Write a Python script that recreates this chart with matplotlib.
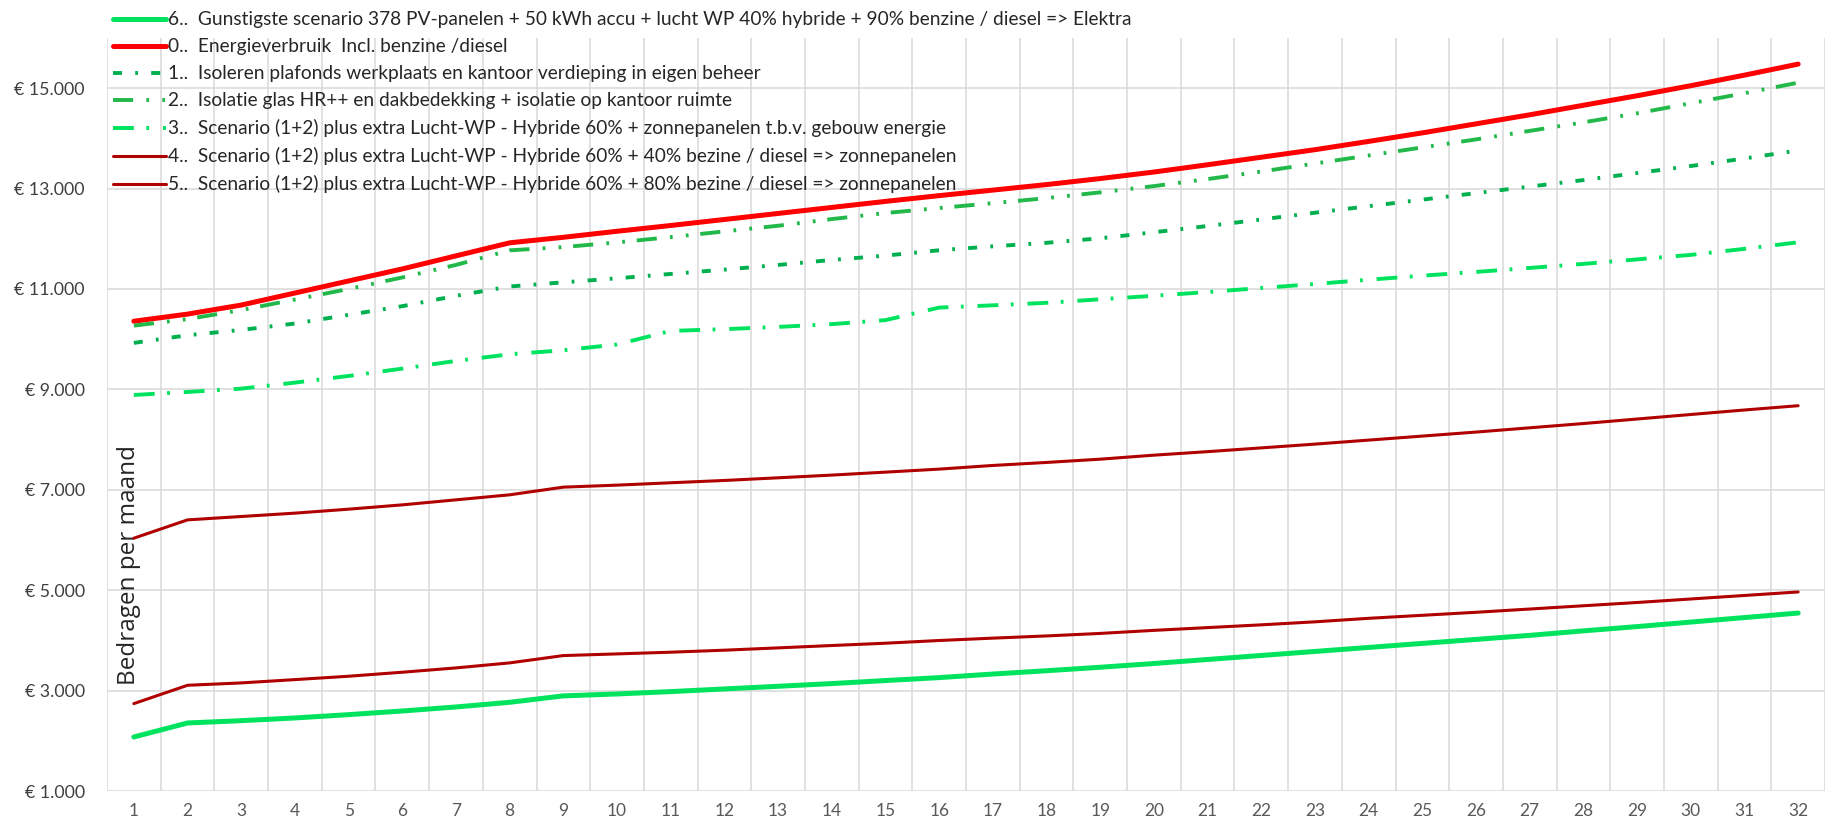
import matplotlib
matplotlib.use("Agg")
import matplotlib.pyplot as plt
from matplotlib.ticker import FixedLocator

plt.rcParams['lines.scale_dashes'] = False

# ---------------- data ----------------
years = list(range(1, 33))

labels = [
    "6..  Gunstigste scenario 378 PV-panelen + 50 kWh accu + lucht WP 40% hybride + 90% benzine / diesel => Elektra",
    "0..  Energieverbruik  Incl. benzine /diesel",
    "1..  Isoleren plafonds werkplaats en kantoor verdieping in eigen beheer",
    "2..  Isolatie glas HR++ en dakbedekking + isolatie op kantoor ruimte",
    "3..  Scenario (1+2) plus extra Lucht-WP - Hybride 60% + zonnepanelen t.b.v. gebouw energie",
    "4..  Scenario (1+2) plus extra Lucht-WP - Hybride 60% + 40% bezine / diesel => zonnepanelen",
    "5..  Scenario (1+2) plus extra Lucht-WP - Hybride 60% + 80% bezine / diesel => zonnepanelen",
]

s6 = [2076, 2355, 2401, 2455, 2521, 2594, 2674, 2767, 2895, 2933, 2980, 3033, 3086, 3140, 3200, 3259,
      3330, 3396, 3465, 3540, 3620, 3700, 3780, 3860, 3940, 4020, 4100, 4190, 4275, 4365, 4455, 4545]
s0 = [10358, 10500, 10680, 10920, 11160, 11400, 11660, 11920, 12030, 12150, 12265, 12385, 12505, 12625, 12745, 12860,
      12970, 13080, 13200, 13330, 13475, 13625, 13775, 13940, 14110, 14290, 14470, 14660, 14850, 15050, 15260, 15480]
s1 = [9926, 10079, 10185, 10312, 10485, 10658, 10864, 11050, 11133, 11213, 11300, 11386, 11479, 11579, 11665, 11772,
      11850, 11920, 12010, 12130, 12255, 12385, 12520, 12650, 12780, 12910, 13040, 13170, 13310, 13450, 13600, 13760]
s2 = [10270, 10400, 10580, 10790, 11000, 11230, 11480, 11770, 11835, 11928, 12034, 12147, 12260, 12393, 12513, 12613,
      12710, 12810, 12925, 13050, 13190, 13340, 13500, 13660, 13820, 13980, 14150, 14320, 14500, 14700, 14900, 15110]
s3 = [8889, 8949, 9015, 9135, 9268, 9414, 9567, 9700, 9780, 9895, 10165, 10200, 10245, 10300, 10380, 10630,
      10675, 10725, 10795, 10865, 10940, 11020, 11100, 11185, 11265, 11340, 11420, 11500, 11590, 11680, 11800, 11930]
s4 = [6036, 6401, 6468, 6535, 6614, 6700, 6800, 6900, 7053, 7093, 7140, 7186, 7239, 7293, 7352, 7412,
      7485, 7545, 7610, 7690, 7760, 7835, 7910, 7990, 8070, 8150, 8235, 8320, 8410, 8500, 8590, 8675]
s5 = [2741, 3106, 3153, 3219, 3286, 3366, 3452, 3552, 3698, 3731, 3765, 3805, 3851, 3898, 3944, 3998,
      4045, 4089, 4139, 4200, 4255, 4310, 4370, 4440, 4500, 4560, 4625, 4690, 4755, 4825, 4895, 4965]

yticks = [1000, 3000, 5000, 7000, 9000, 11000, 13000, 15000]
ytick_labels = ["€ 1.000", "€ 3.000", "€ 5.000", "€ 7.000", "€ 9.000", "€ 11.000", "€ 13.000", "€ 15.000"]
ylabel = "Bedragen per maand"

# ---------------- figure ----------------
W, H, DPI = 1832, 827, 100
fig = plt.figure(figsize=(W / DPI, H / DPI), dpi=DPI)
ax_l, ax_r, ax_t, ax_b = 107, 1825, 38, 791
ax = fig.add_axes([ax_l / W, 1 - ax_b / H, (ax_r - ax_l) / W, (ax_b - ax_t) / H])

grid_c = "#D9D9D9"
tick_font = "Lato"

styles = [
    dict(color="#00E35F", lw=3.6, ls="-"),
    dict(color="#FF0000", lw=3.6, ls="-"),
    dict(color="#00B04F", lw=2.8, ls=(0, (6.5, 9.5, 2, 9.5))),
    dict(color="#22B84A", lw=2.8, ls=(0, (14.5, 9.5, 2, 9.5, 2, 8.5))),
    dict(color="#00E35F", lw=2.8, ls=(0, (15, 9, 2, 10))),
    dict(color="#B00000", lw=2.2, ls="-"),
    dict(color="#B00000", lw=2.2, ls="-"),
]
series = [s6, s0, s1, s2, s3, s4, s5]

for data, lab, st in zip(series, labels, styles):
    ax.plot(years, data, label=lab, color=st["color"], lw=st["lw"], linestyle=st["ls"],
            solid_capstyle="round", dash_capstyle="butt", zorder=3)

ax.set_xlim(0.5, 32.5)
ax.set_ylim(1000, 16000)
ax.set_xticks(years)
ax.set_xticklabels([str(y) for y in years])
ax.xaxis.set_minor_locator(FixedLocator([k + 0.5 for k in range(0, 33)]))
ax.set_yticks(yticks)
ax.set_yticklabels(ytick_labels)

ax.grid(True, which="minor", axis="x", color=grid_c, lw=1.1, zorder=0)
ax.grid(True, which="major", axis="y", color=grid_c, lw=1.1, zorder=0)
ax.grid(False, which="major", axis="x")
for sp in ax.spines.values():
    sp.set_visible(False)

ax.tick_params(axis="both", which="both", length=0)
ax.tick_params(axis="x", pad=9, labelsize=12.5, labelcolor="#595959")
ax.tick_params(axis="y", pad=16, labelsize=12.8, labelcolor="#404040")
for t in ax.get_xticklabels() + ax.get_yticklabels():
    t.set_fontfamily(tick_font)

ax.set_ylabel(ylabel, fontsize=17.5, family="Open Sans", color="#262626", va="center")
ax.yaxis.set_label_coords((129 - ax_l) / (ax_r - ax_l), (ax_b - 565) / (ax_b - ax_t))

leg = fig.legend(loc="upper left", bbox_to_anchor=(113 / W, 1 - 11.5 / H), frameon=False,
                 prop={"family": tick_font, "size": 13.8}, handlelength=2.75, handletextpad=0.12,
                 labelspacing=0.52, borderpad=0, borderaxespad=0)
for t in leg.get_texts():
    t.set_color("#262626")

fig.savefig("out.png", dpi=DPI)
